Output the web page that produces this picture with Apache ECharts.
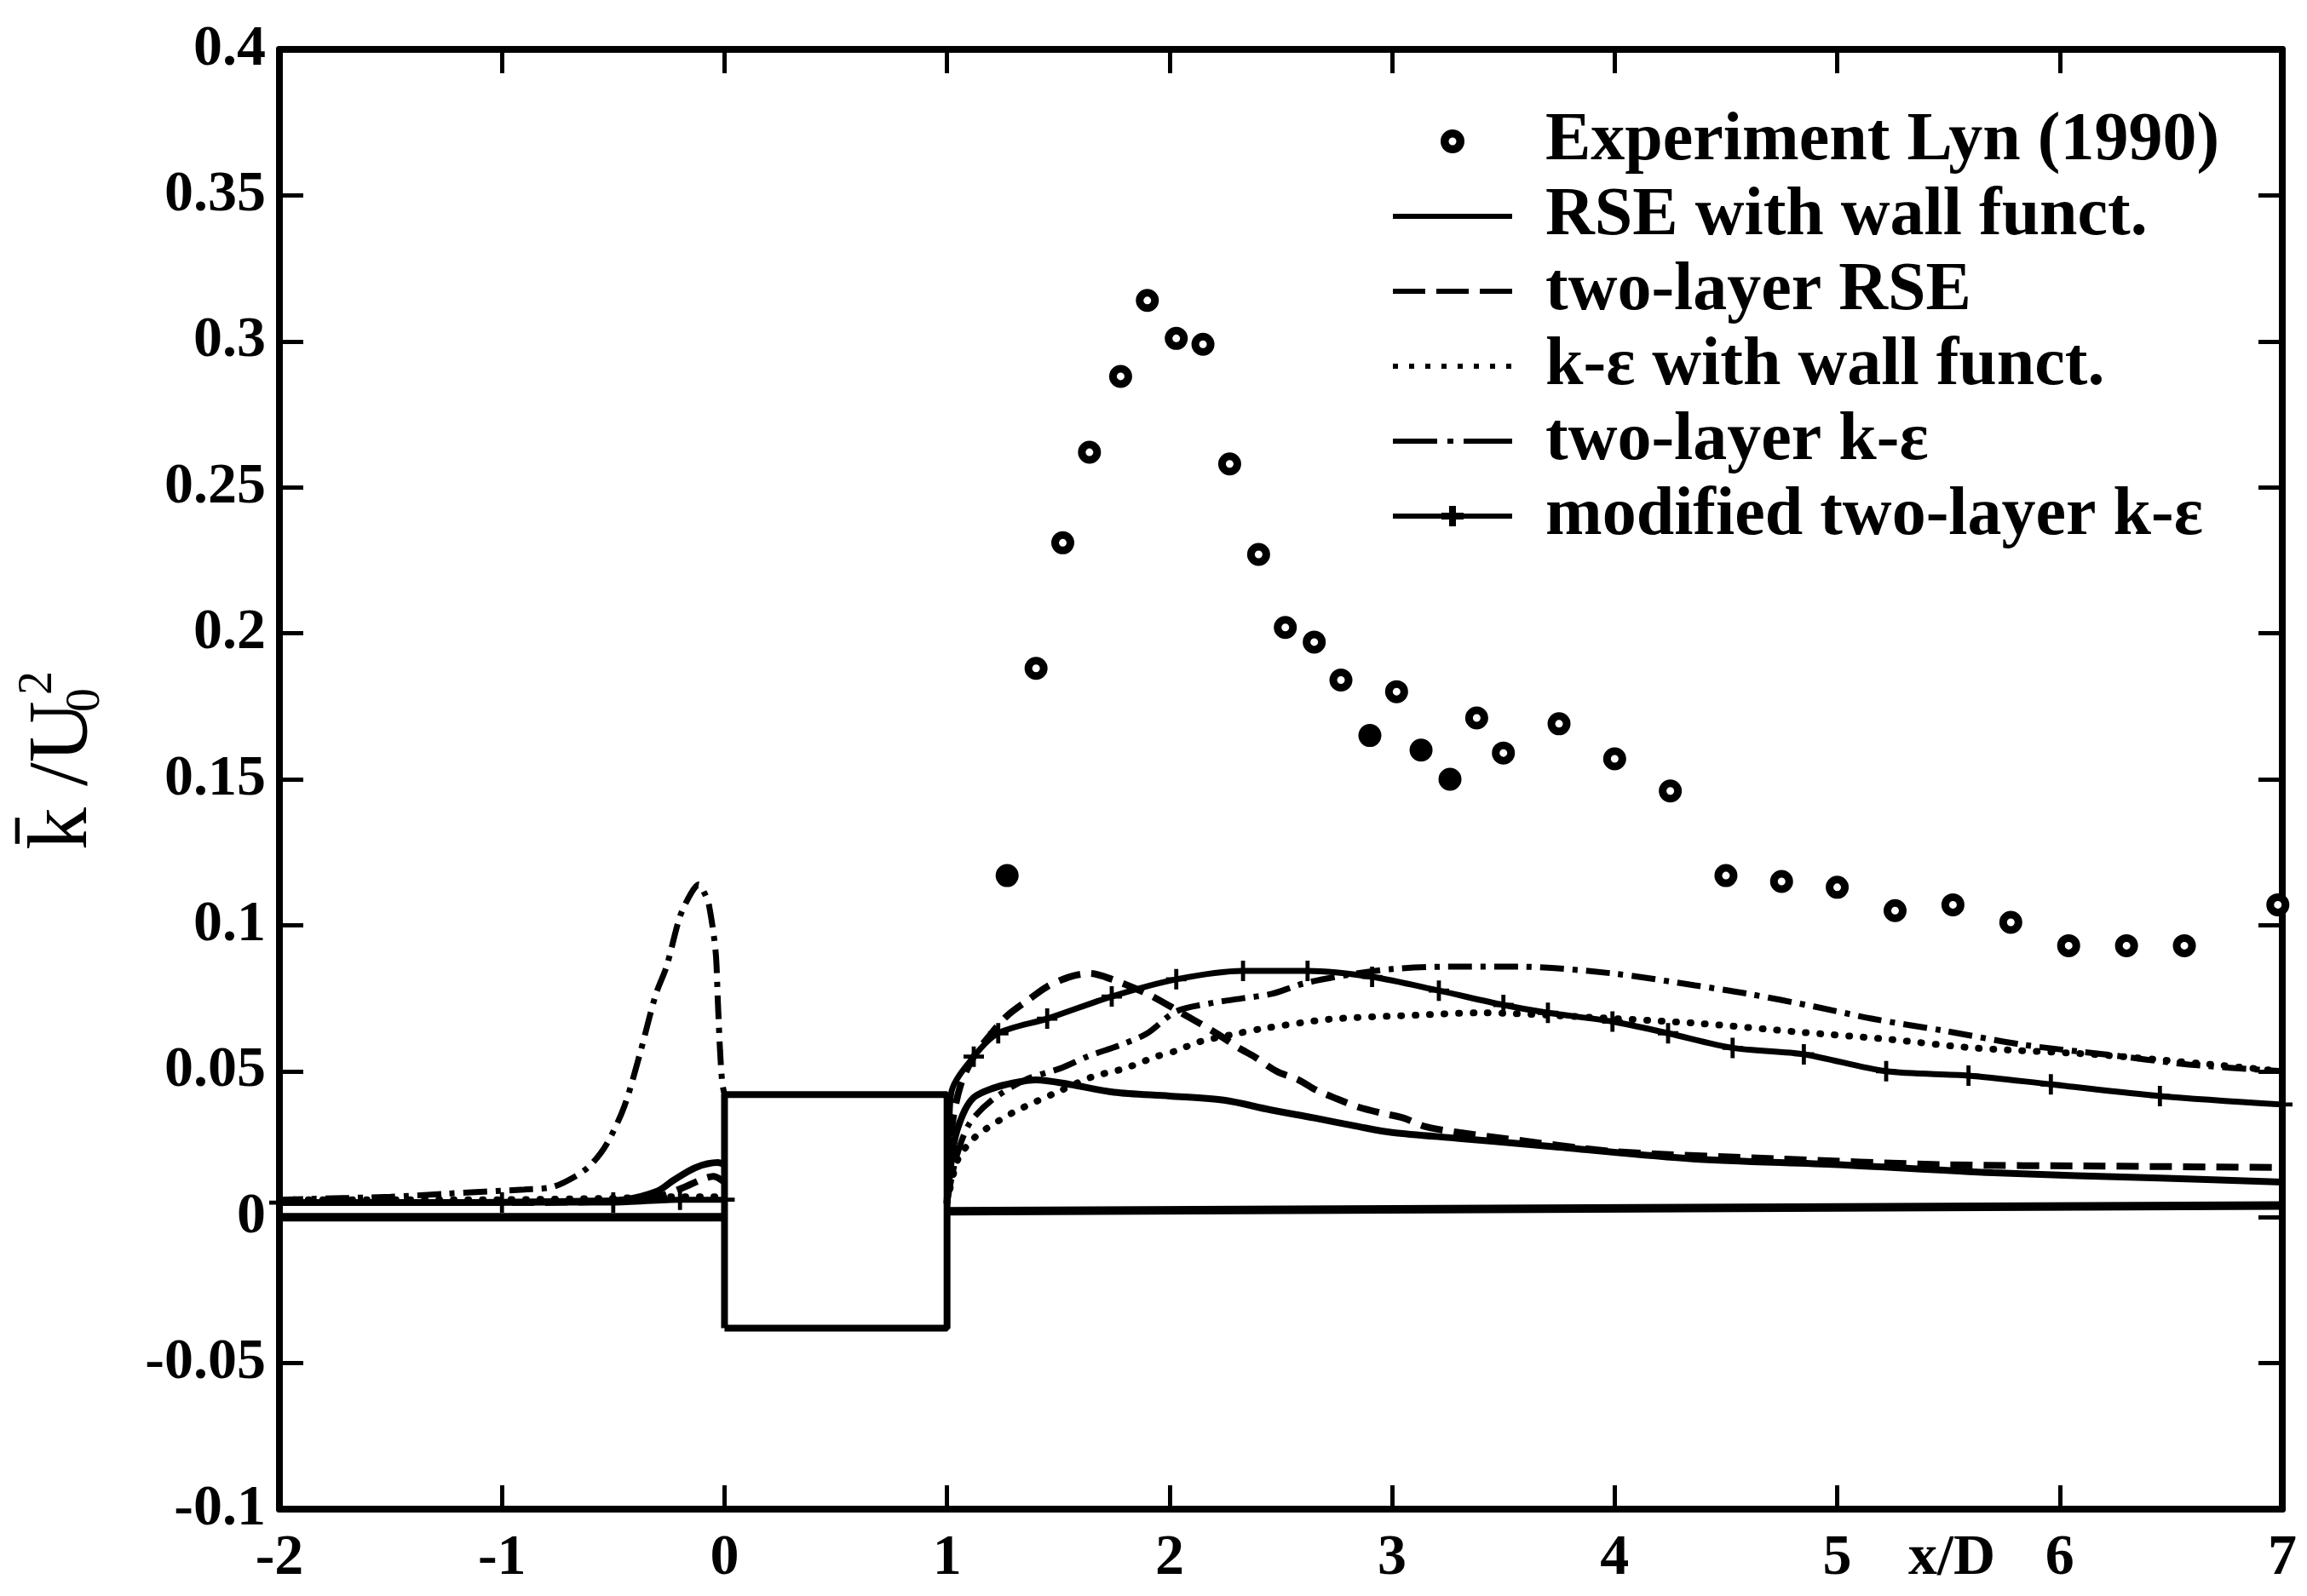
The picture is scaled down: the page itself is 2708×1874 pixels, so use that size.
<!DOCTYPE html>
<html>
<head>
<meta charset="utf-8">
<script src="https://cdn.jsdelivr.net/npm/echarts@6/dist/echarts.min.js"></script>
<style>
html,body{margin:0;padding:0;background:#fff;}
#c{width:2708px;height:1874px;}
</style>
</head>
<body>
<div id="c"></div>
<script>
// ---------- axis ticks ----------
const xMin = -2, xMax = 7, xStep = 1;
const yMin = -0.1, yMax = 0.4, yStep = 0.05;
const xTickLabels = ['-2','-1','0','1','2','3','4','5','6','7'];
const yTickLabels = ['-0.1','-0.05','0','0.05','0.1','0.15','0.2','0.25','0.3','0.35','0.4'];

// ---------- legend names ----------
const seriesNames = [
  'Experiment Lyn (1990)',
  'RSE with wall funct.',
  'two-layer RSE',
  'k-\u03b5 with wall funct.',
  'two-layer k-\u03b5',
  'modified two-layer k-\u03b5'
];

// ---------- experiment (Lyn 1990) ----------
const expX = [1.27,1.40,1.52,1.64,1.78,1.90,2.03,2.15,2.27,2.40,2.52,2.65,2.77,2.90,3.02,3.13,3.26,3.38,3.50,3.75,4.00,4.25,4.50,4.75,5.00,5.26,5.52,5.78,6.04,6.30,6.56,6.98];
const expY = [0.117,0.188,0.231,0.262,0.288,0.314,0.301,0.299,0.258,0.227,0.202,0.197,0.184,0.165,0.180,0.160,0.150,0.171,0.159,0.169,0.157,0.146,0.117,0.115,0.113,0.105,0.107,0.101,0.093,0.093,0.093,0.107];
const expFilled = [0,13,15,16];

// ---------- RSE with wall functions (solid) ----------
const rseWallX = [-2,-1.2,-0.6,-0.45,-0.3,-0.23,-0.13,-0.03,0,0.5,1.0,1.03,1.07,1.12,1.2,1.3,1.4,1.55,1.75,2.0,2.25,2.45,2.65,2.85,3.0,3.3,3.6,3.75,4.35,5.0,5.7,6.45,7.0];
const rseWallY = [0.005,0.005,0.0055,0.006,0.009,0.0126,0.017,0.0187,0.018,null,0.005,0.025,0.035,0.041,0.044,0.046,0.047,0.0455,0.0428,0.0415,0.040,0.0368,0.034,0.031,0.029,0.027,0.025,0.024,0.020,0.018,0.0152,0.0134,0.012];

// ---------- two-layer RSE (dashed) ----------
const twoRseX = [-2,-1,-0.5,-0.3,-0.19,-0.1,-0.05,0,0.5,1.0,1.02,1.06,1.12,1.2,1.27,1.37,1.45,1.55,1.64,1.74,1.9,2.03,2.21,2.31,2.38,2.48,2.58,2.66,2.75,2.85,2.95,3.05,3.15,3.3,3.5,4.0,4.73,5.47,6.2,7.0];
const twoRseY = [0.005,0.005,0.0055,0.007,0.010,0.013,0.014,0.012,null,0.005,0.03,0.045,0.055,0.063,0.069,0.0747,0.079,0.0823,0.0835,0.0815,0.0765,0.071,0.063,0.058,0.055,0.050,0.047,0.0435,0.0406,0.0377,0.0357,0.034,0.031,0.029,0.027,0.0225,0.020,0.018,0.0175,0.017];

// ---------- k-eps with wall functions (dotted) ----------
const keWallX = [-2,-1,-0.5,-0.2,0,0.5,1.0,1.05,1.12,1.17,1.3,1.5,1.65,1.8,1.94,2.03,2.13,2.31,2.41,2.72,3.11,3.4,3.75,4.39,4.83,5.22,5.61,6.2,7.0];
const keWallY = [0.006,0.006,0.0065,0.007,0.007,null,0.005,0.02,0.027,0.030,0.036,0.043,0.048,0.051,0.055,0.057,0.060,0.063,0.0645,0.0678,0.0692,0.070,0.069,0.0663,0.0634,0.061,0.058,0.0555,0.050];

// ---------- two-layer k-eps (dash-dot) ----------
const twoKeX = [-2,-1.5,-1.26,-0.9,-0.775,-0.67,-0.6,-0.53,-0.45,-0.38,-0.31,-0.26,-0.2,-0.15,-0.116,-0.09,-0.07,-0.04,-0.03,-0.02,-0.01,0,0.5,1.0,1.04,1.1,1.2,1.35,1.51,1.63,1.78,1.9,2.03,2.2,2.33,2.46,2.6,2.8,3.0,3.25,3.57,3.99,4.36,4.6,4.9,5.17,5.47,5.84,6.2,6.58,7.0];
const twoKeY = [0.006,0.007,0.008,0.0095,0.0103,0.014,0.018,0.025,0.038,0.056,0.076,0.086,0.103,0.111,0.114,0.111,0.107,0.091,0.074,0.057,0.046,0.042,null,0.005,0.02,0.032,0.040,0.047,0.051,0.055,0.059,0.063,0.0705,0.0735,0.075,0.0765,0.080,0.083,0.085,0.0858,0.0858,0.0835,0.0794,0.0765,0.0721,0.0678,0.064,0.059,0.0558,0.0523,0.050];

// ---------- modified two-layer k-eps (solid with +) ----------
const modKeX = [-2,-1,-0.5,-0.2,0,0.5,1.0,1.01,1.02,1.12,1.23,1.45,1.74,2.03,2.33,2.62,2.91,3.21,3.5,3.7,3.99,4.24,4.53,4.85,5.22,5.59,5.96,6.45,7.0];
const modKeY = [0.005,0.005,0.005,0.006,0.006,null,0.005,0.03,0.043,0.055,0.063,0.068,0.0756,0.0815,0.0844,0.0844,0.0823,0.0776,0.0727,0.070,0.067,0.063,0.058,0.0558,0.050,0.0485,0.0455,0.0415,0.0386];

// ---------- geometry: square cylinder and centre line ----------
const squareX = [0,0,1,1,0];
const squareY = [-0.038,0.042,0.042,-0.038,-0.038];
const baseX = [-2,0,0.5,1,7];
const baseY = [0,0,null,0.002,0.004];

function pairs(xs, ys){ return xs.map((x,i)=>[x, ys[i]===null ? '-' : ys[i]]); }

const FONT = 'Liberation Serif';
const chart = echarts.init(document.getElementById('c'), null, {renderer:'canvas'});

const axisCommon = {
  axisLine:{show:true, onZero:false, lineStyle:{color:'#000', width:8}},
  axisTick:{show:true, inside:true, length:28, lineStyle:{color:'#000', width:5}},
  splitLine:{show:false}
};

const plusPath = 'path://M-1.2,-6L1.2,-6L1.2,-1.2L6,-1.2L6,1.2L1.2,1.2L1.2,6L-1.2,6L-1.2,1.2L-6,1.2L-6,-1.2L-1.2,-1.2Z';

// legend icons, drawn in a 140 x 30 box
const BOX = 'M0,0M140,30';
function rect(x0,x1,y0,y1){ return 'M'+x0+','+y0+'L'+x1+','+y0+'L'+x1+','+y1+'L'+x0+','+y1+'Z'; }
const iconRing = 'path://'+BOX+'M56,15A14,14 0 1,1 84,15A14,14 0 1,1 56,15Z M65.5,15A4.5,4.5 0 1,0 74.5,15A4.5,4.5 0 1,0 65.5,15Z';
const iconSolid = 'path://'+BOX+rect(0,140,12,18);
const iconDash = 'path://'+BOX+rect(0,38,12,18)+rect(51,89,12,18)+rect(102,140,12,18);
let dots = ''; for (let k=0;k<8;k++){ dots += rect(k*19, k*19+6, 12, 18); }
const iconDot = 'path://'+BOX+dots;
const iconDashDot = 'path://'+BOX+rect(0,52,12,18)+rect(64,71,12,18)+rect(83,140,12,18);
const iconPlus = 'path://'+BOX+rect(0,140,12,18)+rect(57,83,11,19)+rect(66,74,3,27);
const legendIcons = [iconRing, iconSolid, iconDash, iconDot, iconDashDot, iconPlus];

chart.setOption({
  animation:false,
  backgroundColor:'#fff',
  grid:{left:328, right:29, top:58, bottom:102, containLabel:false},
  xAxis:[
    Object.assign({type:'value', min:xMin, max:xMax, interval:xStep, position:'bottom',
      axisLabel:{show:true, margin:24, color:'#000', fontFamily:FONT, fontWeight:'bold', fontSize:68,
        formatter:v=>xTickLabels[Math.round((v-xMin)/xStep)]}}, axisCommon),
    Object.assign({type:'value', min:xMin, max:xMax, interval:xStep, position:'top',
      axisLabel:{show:false}}, axisCommon)
  ],
  yAxis:[
    Object.assign({type:'value', min:yMin, max:yMax, interval:yStep, position:'left',
      axisLabel:{show:true, margin:16, color:'#000', fontFamily:FONT, fontWeight:'bold', fontSize:68,
        formatter:v=>yTickLabels[Math.round((v-yMin)/yStep)]}}, axisCommon),
    Object.assign({type:'value', min:yMin, max:yMax, interval:yStep, position:'right',
      axisLabel:{show:false}}, axisCommon)
  ],
  legend:{
    data:seriesNames.map((n,i)=>({name:n, icon:legendIcons[i]})),
    orient:'vertical',
    left:1630, top:117,
    itemWidth:140, itemHeight:30, itemGap:0,
    symbolKeepAspect:true,
    itemStyle:{color:'#000', borderWidth:0, opacity:1},
    textStyle:{fontFamily:FONT, fontWeight:'bold', fontSize:80, lineHeight:88, color:'#000', padding:[0,0,0,34]},
    selectedMode:false
  },
  series:[
    {name:'square', type:'line', data:pairs(squareX, squareY), symbol:'none', silent:true,
      lineStyle:{color:'#000', width:8}, z:2},
    {name:'base', type:'line', data:pairs(baseX, baseY), symbol:'none', silent:true,
      lineStyle:{color:'#000', width:10}, z:2},
    {name:seriesNames[1], type:'line', data:pairs(rseWallX, rseWallY), symbol:'none', smooth:0.3,
      lineStyle:{color:'#000', width:8, type:'solid'}, itemStyle:{color:'#000'}, z:3},
    {name:seriesNames[2], type:'line', data:pairs(twoRseX, twoRseY), symbol:'none', smooth:0.3,
      lineStyle:{color:'#000', width:8, type:[26,13]}, itemStyle:{color:'#000'}, z:3},
    {name:seriesNames[3], type:'line', data:pairs(keWallX, keWallY), symbol:'none', smooth:0.3,
      lineStyle:{color:'#000', width:8, type:[1,16], cap:'round'}, itemStyle:{color:'#000'}, z:3},
    {name:seriesNames[4], type:'line', data:pairs(twoKeX, twoKeY), symbol:'none', smooth:0.3,
      lineStyle:{color:'#000', width:7, type:[28,10,6,10]}, itemStyle:{color:'#000'}, z:3},
    {name:seriesNames[5], type:'line', smooth:0.3,
      data:pairs(modKeX, modKeY).map(p=>({value:p, symbolSize:(p[0]>1.05 || p[0]<0.5) && p[1]!=='-' ? 24 : 0})),
      symbol:plusPath, symbolSize:24, showSymbol:true,
      lineStyle:{color:'#000', width:7}, itemStyle:{color:'#000'}, z:3},
    {name:seriesNames[0], type:'scatter',
      data:expX.map((x,i)=>({value:[x, expY[i]], itemStyle: expFilled.indexOf(i)>=0 ? {color:'#000'} : undefined})),
      symbol:'circle', symbolSize:18,
      itemStyle:{color:'#fff', borderColor:'#000', borderWidth:9, opacity:1}, z:5}
  ],
  graphic:[
    {type:'group', x:75, y:882, rotation:Math.PI/2, children:[
      {type:'text', x:-116, y:0, style:{text:'k\u0304 /U', fontFamily:FONT, fontSize:100, fill:'#000', align:'left', verticalAlign:'middle'}},
      {type:'text', x:46, y:26, style:{text:'0', fontFamily:FONT, fontSize:56, fill:'#000', align:'left', verticalAlign:'middle'}},
      {type:'text', x:66, y:-30, style:{text:'2', fontFamily:FONT, fontSize:56, fill:'#000', align:'left', verticalAlign:'middle'}}
    ]},
    {type:'text', x:2291, y:1830, style:{text:'x/D', fontFamily:FONT, fontWeight:'bold', fontSize:68, fill:'#000', align:'center', verticalAlign:'middle'}}
  ]
});
</script>
</body>
</html>
